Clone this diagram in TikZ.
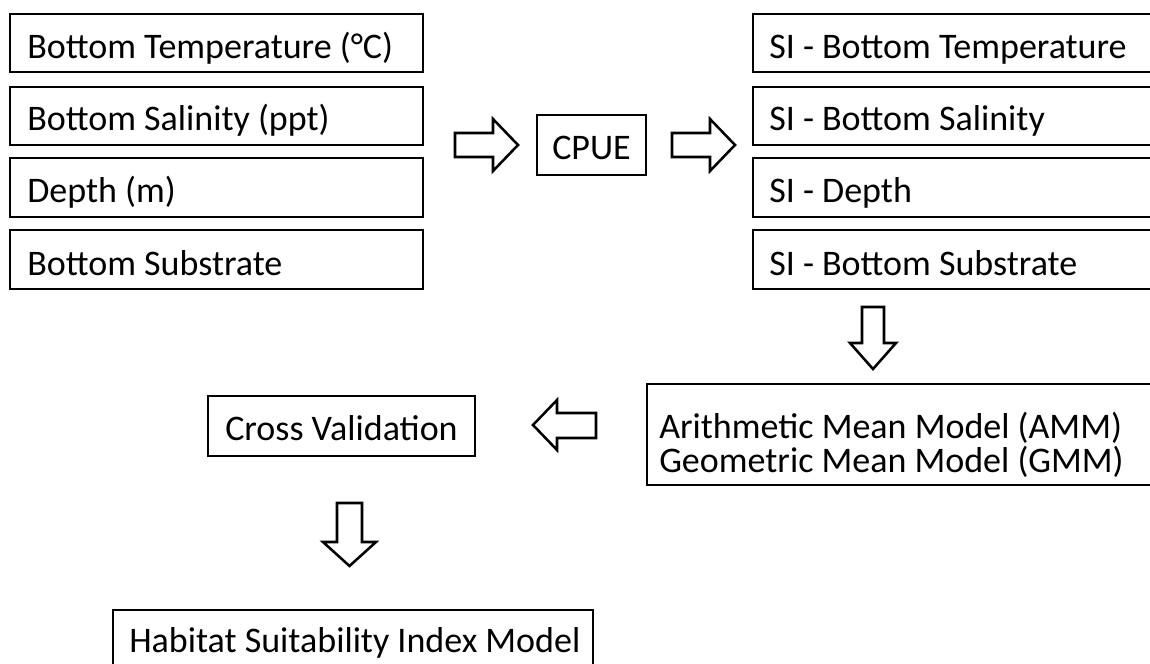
\documentclass[tikz,border=0pt]{standalone}
\usepackage{fontspec}
\setmainfont{Carlito}
\usetikzlibrary{fit}
\begin{document}
\begin{tikzpicture}[x=0.75pt,y=-0.75pt,
  box/.style={draw=black, line width=2.2pt, inner sep=0pt, fill=white},
  lbl/.style={inner sep=0pt, anchor=base west, font=\fontsize{27}{34}\selectfont},
  barrow/.style={draw=black, line width=1.9pt, fill=white, line join=miter}]
\clip (0,0) rectangle (1150,664);
\fill[white] (0,0) rectangle (1150,664);

% input variables
\node[box, fit={(10,14) (423,72)}]   (t1) {};
\node[box, fit={(10,87) (423,145)}]  (t2) {};
\node[box, fit={(10,158) (423,217)}] (t3) {};
\node[box, fit={(10,230) (423,289)}] (t4) {};
\node[lbl] (t1l) at (27,58)  {Bottom Temperature (°C)};
\node[lbl] (t2l) at (27,130) {Bottom Salinity (ppt)};
\node[lbl] (t3l) at (27,202) {Depth (m)};
\node[lbl] (t4l) at (27,275) {Bottom Substrate};

% CPUE
\node[box, fit={(537,115) (646,175)}] (cpue) {};
\node[lbl, anchor=base] (cpuel) at (591.5,159) {CPUE};

% suitability indices
\node[box, fit={(753,14) (1170,72)}]   (s1) {};
\node[box, fit={(753,87) (1170,145)}]  (s2) {};
\node[box, fit={(753,158) (1170,217)}] (s3) {};
\node[box, fit={(753,230) (1170,289)}] (s4) {};
\node[lbl] (s1l) at (769,58)  {SI - Bottom Temperature};
\node[lbl] (s2l) at (769,130) {SI - Bottom Salinity};
\node[lbl] (s3l) at (769,202) {SI - Depth};
\node[lbl] (s4l) at (769,275) {SI - Bottom Substrate};

% combined models
\node[box, fit={(647,384) (1170,485)}] (mod) {};
\node[lbl] (mod1) at (659,438) {Arithmetic Mean Model (AMM)};
\node[lbl] (mod2) at (659,472) {Geometric Mean Model (GMM)};

% validation and final model
\node[box, fit={(208,396) (475,456)}] (cv) {};
\node[lbl, anchor=base] (cvl) at (341.5,440) {Cross Validation};
\node[box, fit={(113,610) (593,700)}] (hsi) {};
\node[lbl] (hsil) at (129,652) {Habitat Suitability Index Model};

% block arrows
\draw[barrow] (455,133) -- (493,133) -- (493,119) -- (518,145) -- (493,171) -- (493,157) -- (455,157) -- cycle;
\draw[barrow] (672,133) -- (710,133) -- (710,119) -- (735,145) -- (710,171) -- (710,157) -- (672,157) -- cycle;
\draw[barrow] (862,307) -- (862,343) -- (850,343) -- (873,369) -- (896,343) -- (884,343) -- (884,307) -- cycle;
\draw[barrow] (596,413) -- (557,413) -- (557,400) -- (533,425) -- (557,450) -- (557,438) -- (596,438) -- cycle;
\draw[barrow] (337,503) -- (337,542) -- (323,542) -- (349.5,566) -- (376,542) -- (362,542) -- (362,503) -- cycle;
\end{tikzpicture}
\end{document}
